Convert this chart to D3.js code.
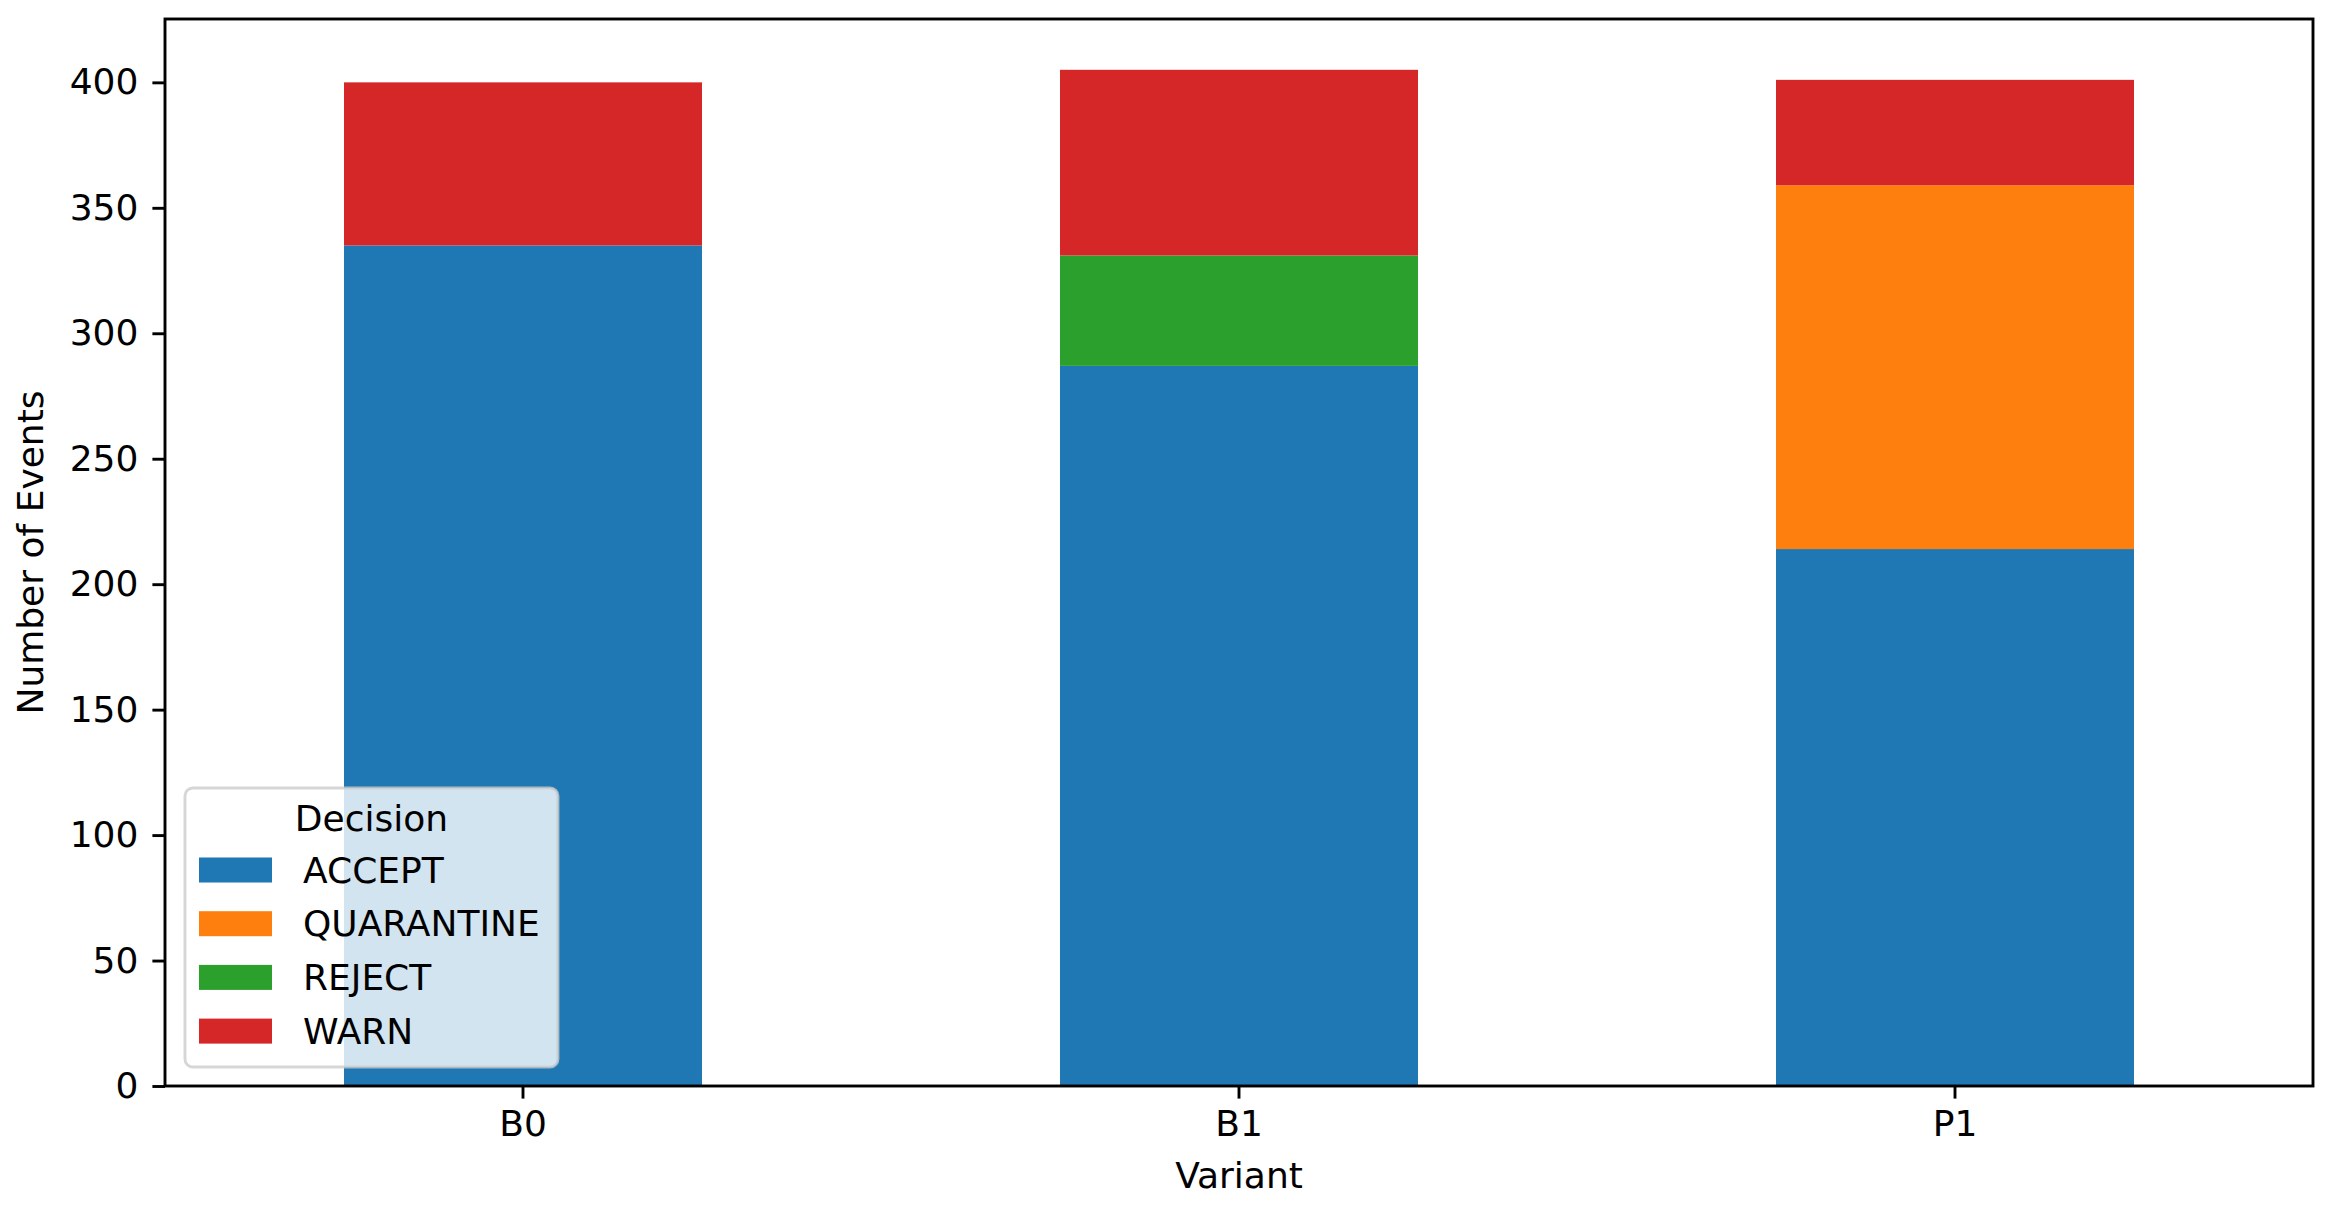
<!DOCTYPE html>
<html>
<head>
<meta charset="utf-8">
<script src="https://cdn.jsdelivr.net/npm/d3@7"></script>
<style>
  html, body { margin: 0; padding: 0; background: #fff; }
  svg { display: block; font-family: "DejaVu Sans", sans-serif; }
</style>
</head>
<body>
<svg id="chart" width="2335" height="1211"></svg>
<script>
// data
const variants = ["B0", "B1", "P1"]
const decisions = ["ACCEPT", "QUARANTINE", "REJECT", "WARN"]
const accept = [335, 287, 214]
const quarantine = [0, 0, 145]
const reject = [0, 44, 0]
const warn = [65, 74, 42]
const yTicks = [0, 50, 100, 150, 200, 250, 300, 350, 400]
const colors = ["#1f77b4", "#ff7f0e", "#2ca02c", "#d62728"]

const rows = variants.map((v, i) => ({
    variant: v,
    ACCEPT: accept[i],
    QUARANTINE: quarantine[i],
    REJECT: reject[i],
    WARN: warn[i]
}))

let svg = d3.select('#chart')

let plot = { left: 165, right: 2313, top: 19, bottom: 1086 }
let fontSize = 36
let lw = 2.9

let x = d3.scaleBand()
    .domain(variants)
    .range([plot.left, plot.right])
    .paddingInner(0.5)
    .paddingOuter(0.25)

let maxTotal = d3.max(rows, d => decisions.reduce((s, k) => s + d[k], 0))
let y = d3.scaleLinear()
    .domain([0, maxTotal * 1.05])
    .range([plot.bottom, plot.top])

let color = d3.scaleOrdinal().domain(decisions).range(colors)

let stacked = d3.stack().keys(decisions)(rows)

// bars
svg.append('g')
    .selectAll('g.layer')
    .data(stacked)
    .enter()
    .append('g')
    .attr('class', 'layer')
    .attr('fill', d => color(d.key))
    .selectAll('rect')
    .data(d => d.filter(p => p[1] > p[0]))
    .enter()
    .append('rect')
    .attr('x', d => x(d.data.variant))
    .attr('width', x.bandwidth())
    .attr('y', d => y(d[1]))
    .attr('height', d => y(d[0]) - y(d[1]))

// axes
let yAxis = svg.append('g')
    .attr('transform', `translate(${plot.left},0)`)
    .call(d3.axisLeft(y).tickValues(yTicks).tickSize(12.6).tickPadding(14))
yAxis.select('.domain').remove()

let xAxis = svg.append('g')
    .attr('transform', `translate(0,${plot.bottom})`)
    .call(d3.axisBottom(x).tickSize(12.6).tickPadding(12))
xAxis.select('.domain').remove()

svg.selectAll('.tick line').attr('stroke', '#000').attr('stroke-width', lw)
svg.selectAll('.tick text')
    .attr('fill', '#000')
    .style('font-size', fontSize + 'px')
    .style('font-family', '"DejaVu Sans", sans-serif')

// frame
svg.append('rect')
    .attr('x', plot.left)
    .attr('y', plot.top)
    .attr('width', plot.right - plot.left)
    .attr('height', plot.bottom - plot.top)
    .attr('fill', 'none')
    .attr('stroke', '#000')
    .attr('stroke-width', lw)

// axis labels
svg.append('text')
    .attr('x', (plot.left + plot.right) / 2)
    .attr('y', 1188)
    .attr('text-anchor', 'middle')
    .style('font-size', fontSize + 'px')
    .text('Variant')

svg.append('text')
    .attr('transform', `translate(33,${(plot.top + plot.bottom) / 2}) rotate(-90)`)
    .attr('text-anchor', 'middle')
    .attr('dominant-baseline', 'middle')
    .style('font-size', fontSize + 'px')
    .text('Number of Events')

// legend
let lg = svg.append('g').attr('class', 'legend')
let box = { x: 185, y: 788, w: 373, h: 279 }
lg.append('rect')
    .attr('x', box.x)
    .attr('y', box.y)
    .attr('width', box.w)
    .attr('height', box.h)
    .attr('rx', 8)
    .attr('fill', '#fff')
    .attr('fill-opacity', 0.8)
    .attr('stroke', '#cccccc')
    .attr('stroke-opacity', 0.8)
    .attr('stroke-width', lw)

lg.append('text')
    .attr('x', box.x + box.w / 2)
    .attr('y', 818)
    .attr('text-anchor', 'middle')
    .attr('dominant-baseline', 'central')
    .style('font-size', fontSize + 'px')
    .text('Decision')

let items = lg.selectAll('g.item')
    .data(decisions)
    .enter()
    .append('g')
    .attr('class', 'item')
    .attr('transform', (d, i) => `translate(0,${870 + i * 53.7})`)

items.append('rect')
    .attr('x', 199)
    .attr('y', -12.5)
    .attr('width', 73)
    .attr('height', 25)
    .attr('fill', d => color(d))

items.append('text')
    .attr('x', 303)
    .attr('y', 0)
    .attr('dominant-baseline', 'central')
    .style('font-size', fontSize + 'px')
    .text(d => d)
</script>
</body>
</html>
